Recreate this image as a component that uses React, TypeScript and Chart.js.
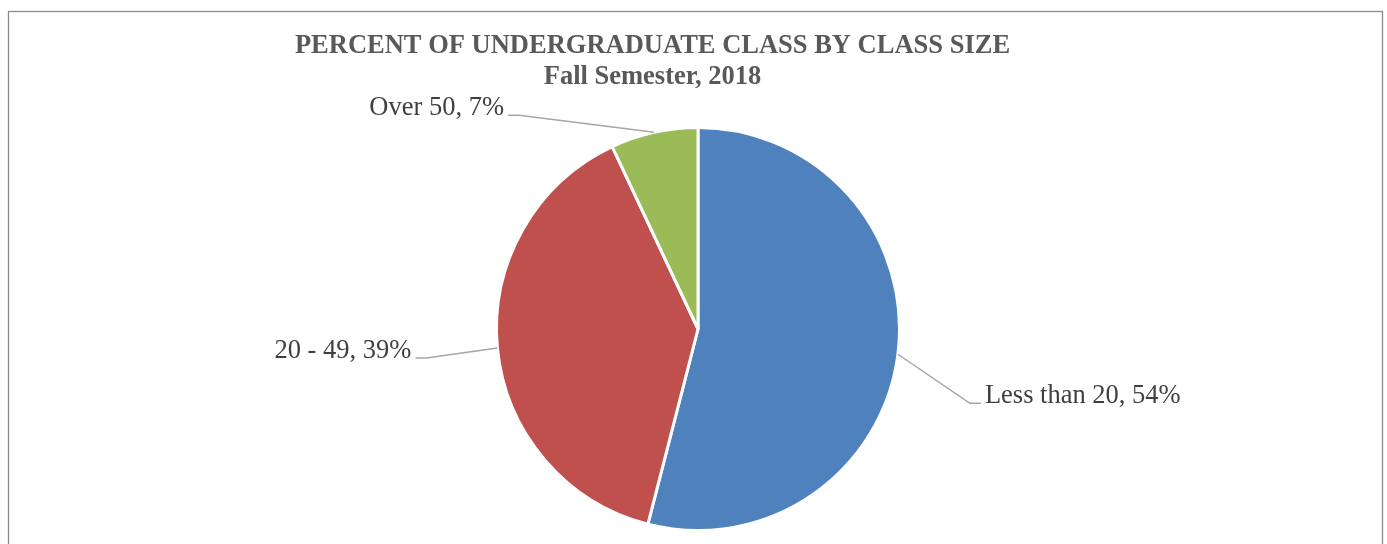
import React, { useEffect, useRef } from "react";
import { Chart, registerables } from "chart.js";

Chart.register(...registerables);

const categories = ["Less than 20", "20 - 49", "Over 50"];
const percents = [54, 39, 7];
const sliceColors = ["#4F81BD", "#C0504D", "#9BBB59"];
const titleLines = ["PERCENT OF UNDERGRADUATE CLASS BY CLASS SIZE", "Fall Semester, 2018"];

// leader-line layout: elbow offset from arc midpoint, stub direction
const labelElbow = [
  { dx: 72, dy: 49, side: 1 },
  { dx: -71, dy: 10, side: -1 },
  { dx: -135, dy: -17, side: -1 },
];

const W = 1387;
const H = 544;

const framePlugin = {
  id: "frame",
  beforeDraw(chart: any) {
    const ctx = chart.ctx;
    ctx.save();
    ctx.fillStyle = "#ffffff";
    ctx.fillRect(0, 0, W, H);
    ctx.strokeStyle = "#8c8c8c";
    ctx.lineWidth = 1.3;
    ctx.strokeRect(8.5, 11.5, 1374, 700);
    ctx.restore();
  },
};

const titlePlugin = {
  id: "customTitle",
  afterDraw(chart: any) {
    const ctx = chart.ctx;
    ctx.save();
    ctx.fillStyle = "#595959";
    ctx.font = "bold 26.5px 'Liberation Serif', 'Times New Roman', serif";
    ctx.textAlign = "center";
    ctx.textBaseline = "alphabetic";
    ctx.fillText(titleLines[0], 652.5, 53);
    ctx.fillText(titleLines[1], 652.5, 84);
    ctx.restore();
  },
};

const labelPlugin = {
  id: "leaderLabels",
  afterDatasetsDraw(chart: any) {
    const ctx = chart.ctx;
    const meta = chart.getDatasetMeta(0);
    ctx.save();
    meta.data.forEach((arc: any, i: number) => {
      const p = arc.getProps(["x", "y", "startAngle", "endAngle", "outerRadius"], true);
      const mid = (p.startAngle + p.endAngle) / 2;
      const ax = p.x + Math.cos(mid) * p.outerRadius;
      const ay = p.y + Math.sin(mid) * p.outerRadius;
      const el = labelElbow[i];
      const ex = ax + el.dx;
      const ey = ay + el.dy;
      const sx = ex + el.side * 11;
      ctx.strokeStyle = "#A6A6A6";
      ctx.lineWidth = 1.5;
      ctx.beginPath();
      ctx.moveTo(ax, ay);
      ctx.lineTo(ex, ey);
      ctx.lineTo(sx, ey);
      ctx.stroke();
      const total = percents.reduce((a, b) => a + b, 0);
      const pct = Math.round((percents[i] / total) * 100);
      const text = `${categories[i]}, ${pct}%`;
      ctx.fillStyle = "#404040";
      ctx.font = "26.5px 'Liberation Serif', 'Times New Roman', serif";
      ctx.textBaseline = "alphabetic";
      ctx.textAlign = el.side > 0 ? "left" : "right";
      ctx.fillText(text, sx + el.side * 4, ey);
    });
    ctx.restore();
  },
};

export default function App() {
  const ref = useRef<HTMLCanvasElement | null>(null);
  useEffect(() => {
    if (!ref.current) return;
    const chart = new Chart(ref.current, {
      type: "pie",
      data: {
        labels: categories,
        datasets: [
          {
            data: percents,
            backgroundColor: sliceColors,
            borderColor: "#ffffff",
            borderWidth: 3,
          },
        ],
      },
      options: {
        responsive: false,
        animation: false,
        events: [],
        layout: { padding: { left: 495, right: 486, top: 126, bottom: 12 } },
        plugins: {
          legend: { display: false },
          title: { display: false },
          tooltip: { enabled: false },
        },
      },
      plugins: [framePlugin, titlePlugin, labelPlugin],
    });
    return () => chart.destroy();
  }, []);
  return (
    <div style={{ position: "absolute", left: 0, top: 0, width: W, height: H, overflow: "hidden" }}>
      <canvas ref={ref} width={W} height={H} style={{ display: "block" }} />
    </div>
  );
}
